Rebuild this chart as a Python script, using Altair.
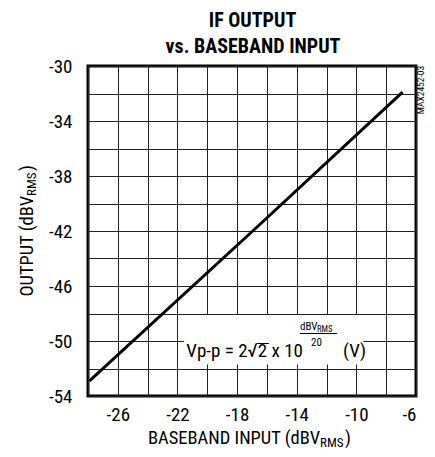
import altair as alt
import pandas as pd

# ---- data ----
baseband_in = [-27.9, -16.55, -6.9]      # dBVrms
if_out = [-52.9, -41.6, -31.9]           # dBVrms

x_ticks = [-28, -26, -24, -22, -20, -18, -16, -14, -12, -10, -8, -6]
y_ticks = [-54, -52, -50, -48, -46, -44, -42, -40, -38, -36, -34, -32, -30]

box_x = [-21.55]
box_x2 = [-9.53]
box_y = [-51.7]
box_y2 = [-48.1]

FONT = "Liberation Sans Narrow, Roboto Condensed, Noto Sans Condensed, DejaVu Sans Condensed, sans-serif"

line_df = pd.DataFrame({"x": baseband_in, "y": if_out})
box_df = pd.DataFrame({"x": box_x, "x2": box_x2, "y": box_y, "y2": box_y2})

xscale = alt.Scale(domain=[-28, -6], nice=False, zero=False)
yscale = alt.Scale(domain=[-54, -30], nice=False, zero=False)
lab = "abs(datum.value) % 4 == 2 ? toString(datum.value) : ''"

xaxis = alt.Axis(values=x_ticks, tickCount=len(x_ticks), labelExpr=lab, grid=True, ticks=False,
                 domain=False, title=None, labelFont=FONT, labelFontSize=19, labelColor="black",
                 labelPadding=9, gridColor="#222", gridWidth=1, labelOverlap=False)
yaxis = alt.Axis(values=y_ticks, tickCount=len(y_ticks), labelExpr=lab, grid=True, ticks=False,
                 domain=False, title=None, labelFont=FONT, labelFontSize=19, labelColor="black",
                 labelPadding=16, gridColor="#222", gridWidth=1, labelOverlap=False)

base_line = alt.Chart(line_df).mark_line(color="black", strokeWidth=3).encode(
    x=alt.X("x:Q", scale=xscale, axis=xaxis),
    y=alt.Y("y:Q", scale=yscale, axis=yaxis),
)

box = alt.Chart(box_df).mark_rect(fill="white").encode(
    x="x:Q", x2="x2:Q", y="y:Q", y2="y2:Q"
)


def txt(text, x, y, size, align="left", baseline="alphabetic", angle=0, weight="normal"):
    return alt.Chart(alt.Data(values=[{}])).mark_text(
        text=text, align=align, baseline=baseline, fontSize=size, fontWeight=weight,
        font=FONT, angle=angle, color="black"
    ).encode(x=alt.value(x), y=alt.value(y))


def rule(x1, x2, y, w=1):
    return alt.Chart(alt.Data(values=[{}])).mark_rule(color="black", strokeWidth=w).encode(
        x=alt.value(x1), x2=alt.value(x2), y=alt.value(y), y2=alt.value(y)
    )


annos = [
    # title
    txt("IF OUTPUT", 164.5, -39.5, 20, align="center", weight="bold"),
    txt("vs. BASEBAND INPUT", 165, -13.5, 20, align="center", weight="bold"),
    # x axis title
    txt("BASEBAND INPUT (dBV", 232, 378, 18.5, align="right"),
    txt("RMS", 232, 381, 13, align="left"),
    txt(")", 257, 378, 18.5, align="left"),
    # y axis title (rotated)
    txt("OUTPUT (dBV", -55, 130, 18.5, align="right", angle=270),
    txt("RMS", -52, 130, 13, align="left", angle=270),
    txt(")", -55, 105, 18.5, align="left", angle=270),
    # formula
    txt("Vp-p = 2\u221a2 x 10", 215, 291, 19, align="right"),
    rule(168.5, 181, 277.5),
    txt("dBV", 212, 264, 11, align="left"),
    txt("RMS", 229, 265.5, 8.5, align="left"),
    rule(212, 249, 267.5),
    txt("20", 228.5, 280, 11, align="center"),
    txt("(V)", 255, 291, 19, align="left"),
    # side code
    txt("MAX2452-03", 333, 24, 9.5, align="center", baseline="middle", angle=270),
]

chart = alt.layer(base_line, box, *annos).properties(
    width=328, height=330, autosize="none",
    padding={"left": 80, "top": 58, "right": 10, "bottom": 53},
).configure_view(stroke="black", strokeWidth=3)

chart.save("out.html", embed_options={"renderer": "svg", "actions": False})
